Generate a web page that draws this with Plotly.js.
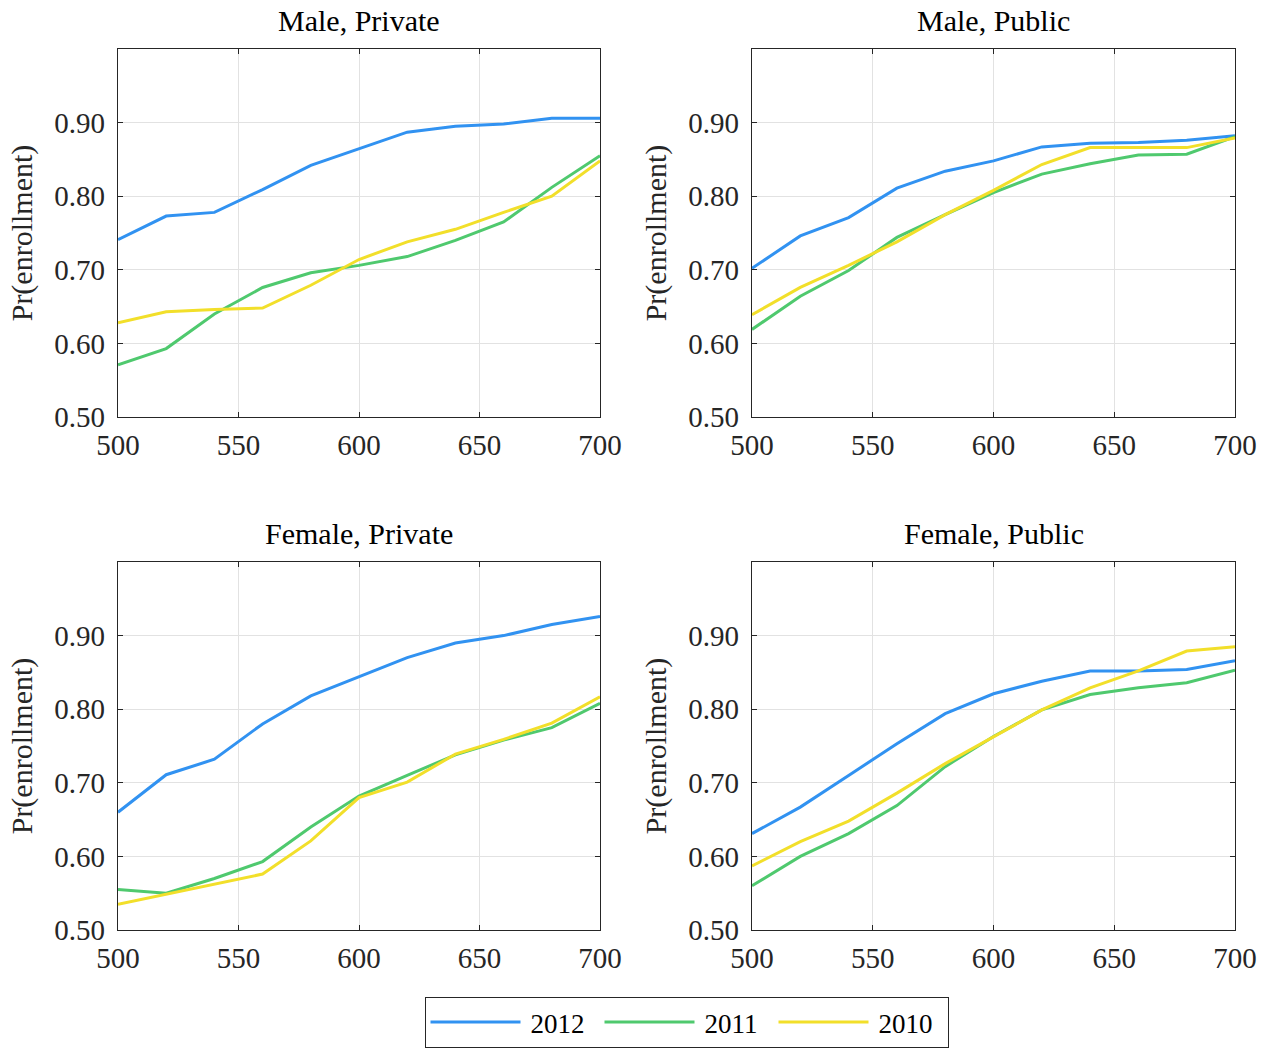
<!DOCTYPE html>
<html>
<head>
<meta charset="utf-8">
<script src="https://cdn.plot.ly/plotly-3.0.1.min.js"></script>
<style>html,body{margin:0;padding:0;background:#fff;}#chart{width:1275px;height:1049px;}</style>
</head>
<body>
<div id="chart"></div>
<script>
const scores = [500, 520, 540, 560, 580, 600, 620, 640, 660, 680, 700];
const years = ["2012", "2011", "2010"];
const panelTitles = ["Male, Private", "Male, Public", "Female, Private", "Female, Public"];
const xTicks = [500, 550, 600, 650, 700];
const yTicks = [0.5, 0.6, 0.7, 0.8, 0.9];

const malePrivate2012 = [0.741, 0.773, 0.778, 0.809, 0.842, 0.865, 0.887, 0.895, 0.898, 0.906, 0.906];
const malePrivate2011 = [0.571, 0.593, 0.640, 0.676, 0.696, 0.706, 0.718, 0.740, 0.765, 0.812, 0.855];
const malePrivate2010 = [0.628, 0.643, 0.646, 0.648, 0.679, 0.714, 0.738, 0.755, 0.778, 0.800, 0.848];

const malePublic2012 = [0.702, 0.746, 0.771, 0.811, 0.834, 0.848, 0.867, 0.872, 0.873, 0.876, 0.882];
const malePublic2011 = [0.619, 0.664, 0.699, 0.744, 0.775, 0.805, 0.830, 0.844, 0.856, 0.857, 0.881];
const malePublic2010 = [0.639, 0.676, 0.706, 0.738, 0.775, 0.808, 0.843, 0.866, 0.866, 0.866, 0.879];

const femalePrivate2012 = [0.660, 0.711, 0.732, 0.780, 0.818, 0.844, 0.870, 0.890, 0.900, 0.915, 0.926];
const femalePrivate2011 = [0.555, 0.550, 0.570, 0.593, 0.640, 0.682, 0.710, 0.738, 0.758, 0.775, 0.808];
const femalePrivate2010 = [0.535, 0.549, 0.563, 0.576, 0.621, 0.680, 0.701, 0.739, 0.759, 0.781, 0.817];

const femalePublic2012 = [0.631, 0.667, 0.710, 0.753, 0.794, 0.821, 0.838, 0.852, 0.852, 0.854, 0.866];
const femalePublic2011 = [0.560, 0.600, 0.631, 0.669, 0.722, 0.763, 0.799, 0.820, 0.829, 0.836, 0.853];
const femalePublic2010 = [0.587, 0.620, 0.648, 0.686, 0.726, 0.762, 0.799, 0.829, 0.852, 0.879, 0.885];

const panels = [
  [malePrivate2012, malePrivate2011, malePrivate2010],
  [malePublic2012, malePublic2011, malePublic2010],
  [femalePrivate2012, femalePrivate2011, femalePrivate2010],
  [femalePublic2012, femalePublic2011, femalePublic2010]
];

const colors = ["#3192f1", "#4fc96e", "#f2df2a"];
const FONT = "Liberation Serif";
const W = 1275, H = 1049;

// pixel boxes of plot areas
const boxes = [
  {x0: 118, x1: 600, y0: 49, y1: 417},
  {x0: 752, x1: 1235, y0: 49, y1: 417},
  {x0: 118, x1: 600, y0: 562, y1: 930},
  {x0: 752, x1: 1235, y0: 562, y1: 930}
];

const data = [];
panels.forEach((series, p) => {
  series.forEach((vals, s) => {
    data.push({
      type: "scatter", mode: "lines",
      x: scores, y: vals,
      xaxis: p === 0 ? "x" : "x" + (p + 1),
      yaxis: p === 0 ? "y" : "y" + (p + 1),
      name: years[s],
      showlegend: p === 0,
      legendgroup: years[s],
      line: {color: colors[s], width: 3}
    });
  });
});

const layout = {
  width: W, height: H,
  margin: {l: 0, r: 0, t: 0, b: 0},
  paper_bgcolor: "#fff", plot_bgcolor: "#fff",
  font: {family: FONT, size: 28, color: "#262626"},
  showlegend: true,
  legend: {
    orientation: "h",
    x: 686.5 / W, xanchor: "center",
    y: 1 / H, yanchor: "bottom",
    bgcolor: "#fff", bordercolor: "#262626", borderwidth: 1,
    font: {family: FONT, size: 27, color: "#000"},
    itemwidth: 95,
    entrywidth: 64,
    traceorder: "normal"
  },
  annotations: []
};

boxes.forEach((b, i) => {
  const xa = i === 0 ? "xaxis" : "xaxis" + (i + 1);
  const ya = i === 0 ? "yaxis" : "yaxis" + (i + 1);
  const yid = i === 0 ? "y" : "y" + (i + 1);
  const xid = i === 0 ? "x" : "x" + (i + 1);
  layout[xa] = {
    domain: [b.x0 / W, b.x1 / W],
    anchor: yid,
    range: [500, 700],
    tickvals: xTicks,
    ticktext: xTicks.map(String),
    ticks: "inside", ticklen: 5, tickcolor: "#262626", tickwidth: 1,
    showline: true, linecolor: "#262626", linewidth: 1.2, mirror: "ticks",
    showgrid: true, gridcolor: "#e2e2e2", gridwidth: 1,
    zeroline: false,
    tickfont: {family: FONT, size: 29, color: "#262626"},
    ticklabelstandoff: 2,
    automargin: false
  };
  layout[ya] = {
    domain: [1 - b.y1 / H, 1 - b.y0 / H],
    anchor: xid,
    range: [0.5, 1.0],
    tickvals: yTicks,
    ticktext: yTicks.map(v => v.toFixed(2)),
    ticks: "inside", ticklen: 5, tickcolor: "#262626", tickwidth: 1,
    showline: true, linecolor: "#262626", linewidth: 1.2, mirror: "ticks",
    showgrid: true, gridcolor: "#e2e2e2", gridwidth: 1,
    zeroline: false,
    tickfont: {family: FONT, size: 29, color: "#262626"},
    ticklabelstandoff: 6,
    title: {text: "Pr(enrollment)", font: {family: FONT, size: 30, color: "#262626"}, standoff: 12},
    automargin: false
  };
  layout.annotations.push({
    text: panelTitles[i],
    xref: "paper", yref: "paper",
    x: (b.x0 + b.x1) / 2 / W, y: 1 - b.y0 / H,
    xanchor: "center", yanchor: "bottom",
    yshift: 10,
    showarrow: false,
    font: {family: FONT, size: 30, color: "#000"}
  });
});

Plotly.newPlot("chart", data, layout, {displayModeBar: false, staticPlot: true}).then(gd => {
  // lengthen the legend line samples to match the reference
  document.querySelectorAll(".legend .legendlines path").forEach(p => {
    p.setAttribute("d", "M5,0h90");
  });
});
</script>
</body>
</html>
